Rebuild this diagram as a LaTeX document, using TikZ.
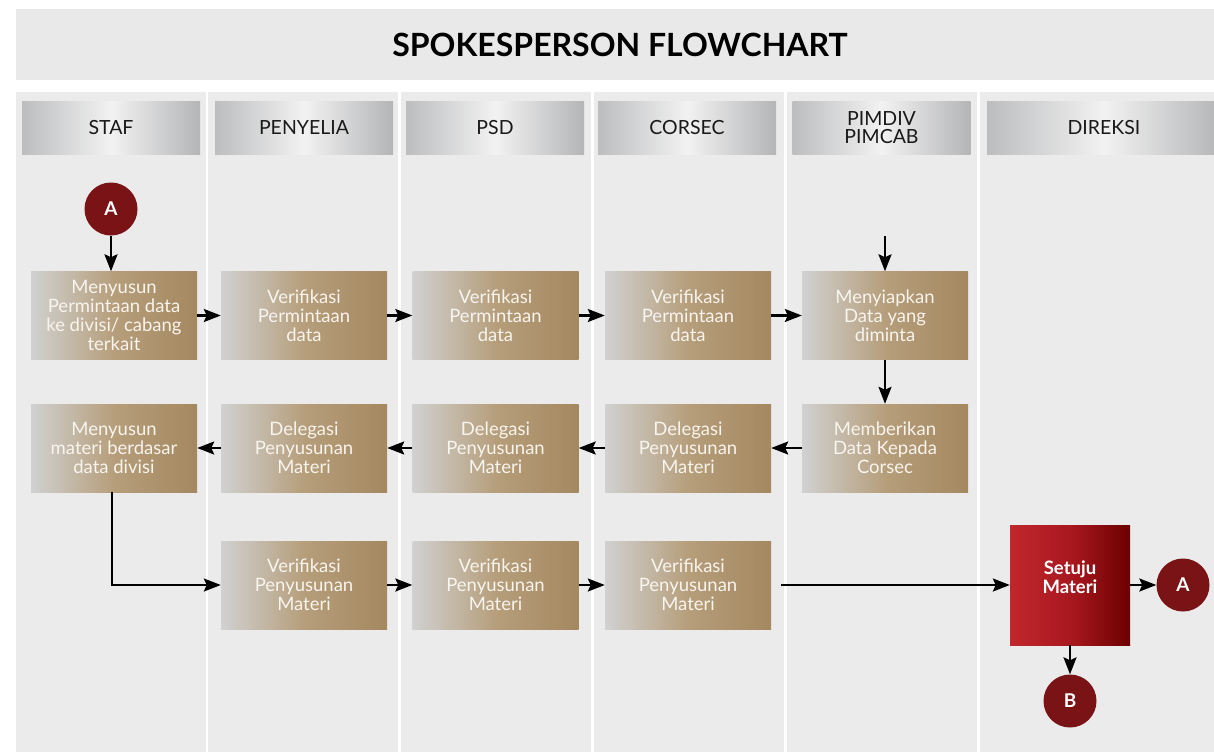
\documentclass[tikz,border=0pt]{standalone}
\usepackage{fontspec}
\setmainfont{Lato}
\usepackage{xcolor}
\usepackage{tikz}
\usetikzlibrary{arrows.meta, positioning, shapes}
\definecolor{lanegray}{HTML}{EBEBEB}
\definecolor{titlegray}{HTML}{E9E9E9}
\definecolor{silverL}{HTML}{BCBDBF}
\definecolor{silverM}{HTML}{F2F2F2}
\definecolor{silverR}{HTML}{B4B5B7}
\definecolor{tanL}{HTML}{D0D1D1}
\definecolor{tanM}{HTML}{B69E7B}
\definecolor{tanR}{HTML}{A48860}
\definecolor{redL}{HTML}{C1272D}
\definecolor{redM}{HTML}{A9181F}
\definecolor{redR}{HTML}{6C0000}
\definecolor{maroon}{HTML}{7A1315}
\definecolor{boxtext}{HTML}{F8F4EE}

\begin{document}
\begin{tikzpicture}[x=1pt, y=-1pt,
  header/.style={minimum width=178pt, minimum height=53pt, inner sep=0pt, left color=silverL, right color=silverR, middle color=silverM, text=black!90, align=center, font=\fontsize{19.5}{17.5}\selectfont},
  task/.style={minimum width=166pt, minimum height=88pt, inner sep=0pt, left color=tanL, right color=tanR, middle color=tanM, text=boxtext, align=center, font=\fontsize{18.5}{19}\selectfont},
  conn/.style={circle, fill=maroon, minimum size=53pt, inner sep=0pt, text=white, font=\bfseries\fontsize{19}{19}\selectfont},
  flow/.style={line width=2.4pt, -{Stealth[length=17pt, width=13pt, inset=3pt]}}]
\useasboundingbox (0,0) rectangle (1214,752);
\fill[white] (0,0) rectangle (1214,752);
\fill[titlegray] (16,9) rectangle (1214,80);
\node[font=\bfseries\fontsize{32}{32}\selectfont] (title) at (620,45) {SPOKESPERSON FLOWCHART};
\fill[lanegray] (16,92) rectangle (206,752);
\fill[lanegray] (208,92) rectangle (398,752);
\fill[lanegray] (401,92) rectangle (591,752);
\fill[lanegray] (594,92) rectangle (784,752);
\fill[lanegray] (787,92) rectangle (977,752);
\fill[lanegray] (980,92) rectangle (1214,752);
\node[header] (hstaf) at (111,127.5) {STAF};
\node[header] (hpenyelia) at (304,127.5) {PENYELIA};
\node[header] (hpsd) at (495,127.5) {PSD};
\node[header] (hcorsec) at (687,127.5) {CORSEC};
\node[header] (hpim) at (881.5,127.5) {PIMDIV\\PIMCAB};
\node[header, minimum width=234pt] (hdireksi) at (1104,127.5) {DIREKSI};
\node[conn] (startA) at (111,209) {A};
\node[task] (staf1) at (114,315.5) {Menyusun\\Permintaan data\\ke divisi/ cabang\\terkait};
\node[task] (pen1) at (304,315.5) {Verifikasi\\Permintaan\\data};
\node[task] (psd1) at (495.5,315.5) {Verifikasi\\Permintaan\\data};
\node[task] (cor1) at (688,315.5) {Verifikasi\\Permintaan\\data};
\node[task] (pim1) at (885,315.5) {Menyiapkan\\Data yang\\diminta};
\node[task] (pim2) at (885,448) {Memberikan\\Data Kepada\\Corsec};
\node[task] (cor2) at (688,448) {Delegasi\\Penyusunan\\Materi};
\node[task] (psd2) at (495.5,448) {Delegasi\\Penyusunan\\Materi};
\node[task] (pen2) at (304,448) {Delegasi\\Penyusunan\\Materi};
\node[task] (staf2) at (114,448) {Menyusun\\materi berdasar\\data divisi};
\node[task] (pen3) at (304,585) {Verifikasi\\Penyusunan\\Materi};
\node[task] (psd3) at (495.5,585) {Verifikasi\\Penyusunan\\Materi};
\node[task] (cor3) at (688,585) {Verifikasi\\Penyusunan\\Materi};
\node[minimum size=120pt, inner sep=0pt, left color=redL, right color=redR, middle color=redM, label={[text=white, align=center, font=\bfseries\fontsize{18.5}{19}\selectfont, yshift=8pt]center:Setuju\\Materi}] (setuju) at (1070,585) {};
\node[conn] (endA) at (1183,585) {A};
\node[conn] (endB) at (1070,701) {B};
\coordinate (pimIn) at (885,236);
\draw[flow] (startA) -- (startA |- staf1.north);
\draw[flow] (staf1) -- (pen1);
\draw[flow] (pen1) -- (psd1);
\draw[flow] (psd1) -- (cor1);
\draw[flow] (cor1) -- (pim1);
\draw[flow] (pimIn) -- (pim1);
\draw[flow] (pim1) -- (pim2);
\draw[flow] (pim2) -- (cor2);
\draw[flow] (cor2) -- (psd2);
\draw[flow] (psd2) -- (pen2);
\draw[flow] (pen2) -- (staf2);
\draw[flow] ([xshift=-2pt]staf2.south) |- (pen3);
\draw[flow] (pen3) -- (psd3);
\draw[flow] (psd3) -- (cor3);
\draw[flow, shorten <=10pt] (cor3) -- (setuju);
\draw[flow] (setuju) -- (endA);
\draw[flow] (setuju) -- (endB);
\end{tikzpicture}
\end{document}
